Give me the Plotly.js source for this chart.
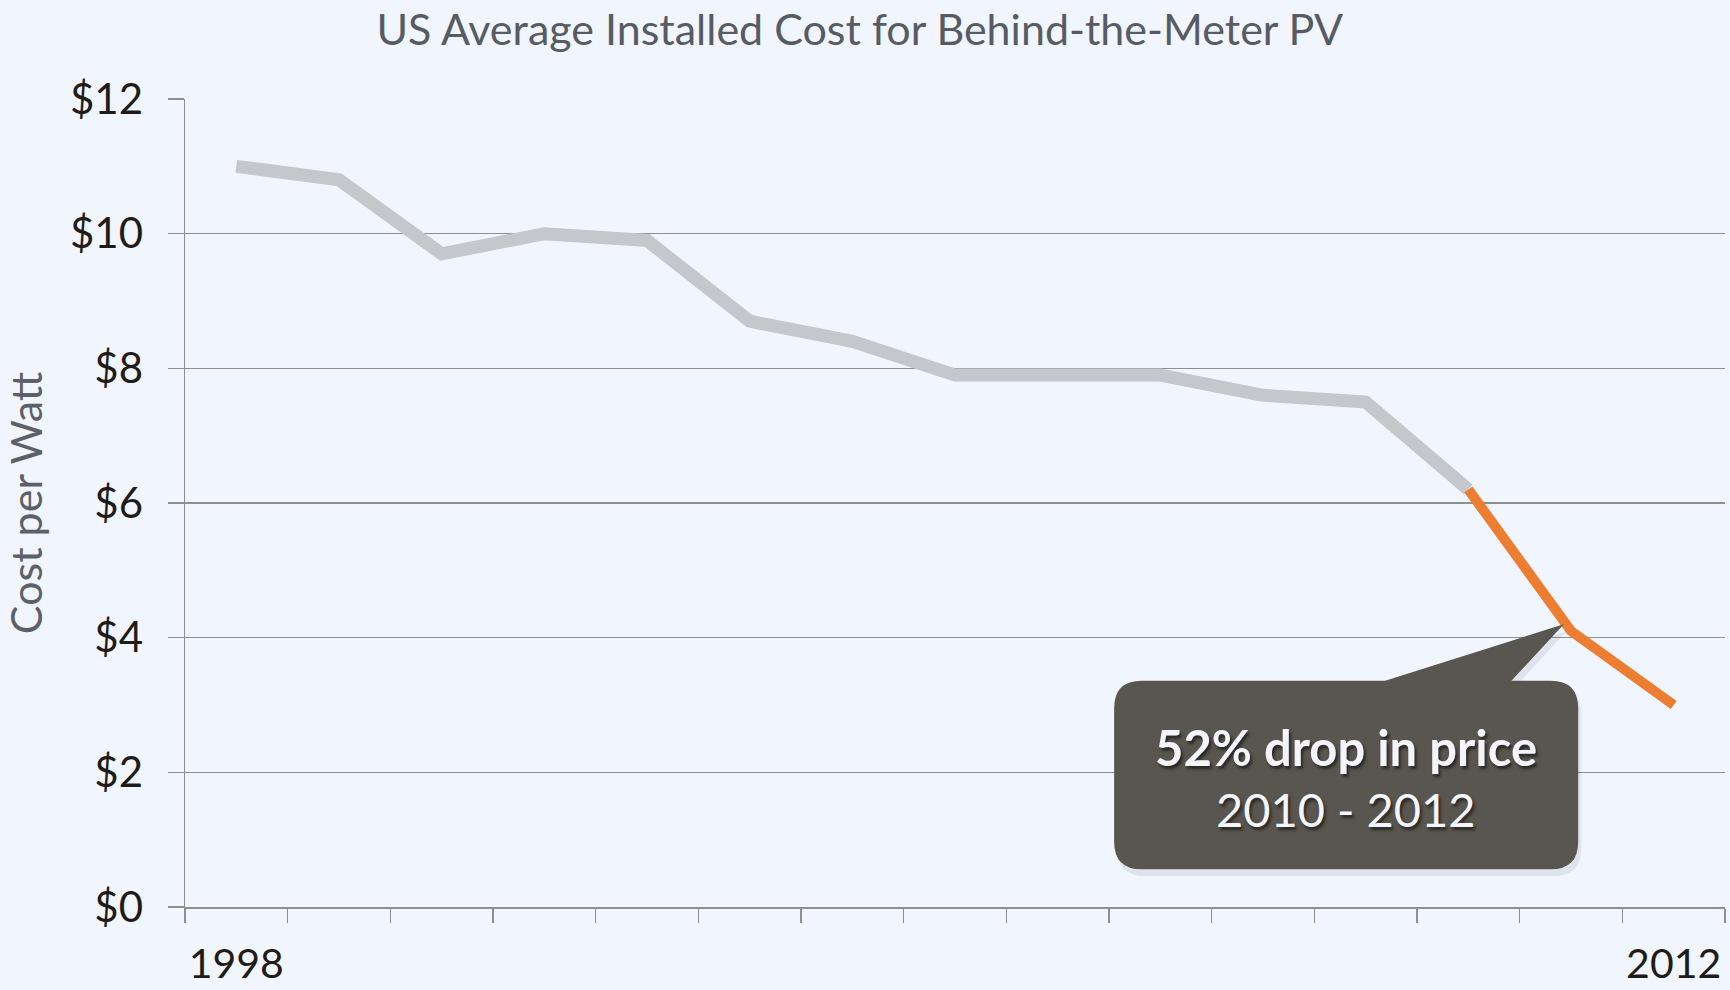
<!DOCTYPE html>
<html>
<head>
<meta charset="utf-8">
<script src="https://cdn.plot.ly/plotly-3.0.1.min.js"></script>
<style>
  html, body { margin: 0; padding: 0; background: #f1f5fd; }
  #chart { width: 1730px; height: 990px; }
</style>
</head>
<body>
<div id="chart"></div>
<script>
// --- DATA ---
const years = [1998, 1999, 2000, 2001, 2002, 2003, 2004, 2005, 2006, 2007, 2008, 2009, 2010, 2011, 2012];
const costPerWatt = [11.0, 10.8, 9.7, 10.0, 9.9, 8.7, 8.4, 7.9, 7.9, 7.9, 7.6, 7.5, 6.2, 4.1, 3.0];
const highlightFrom = 2010;
const labelYears = [1998, 2012];
const yTickVals = [0, 2, 4, 6, 8, 10, 12];
const yTickText = ['$0', '$2', '$4', '$6', '$8', '$10', '$12'];

// --- STYLE ---
const BG = '#f1f5fd';
const GRID = '#8f8f8f';
const FONT = 'Lato, "Open Sans", sans-serif';

// split the series where the orange highlight starts (shared point at 2010)
const cut = years.indexOf(highlightFrom);
const grayTrace = {
    x: years.slice(0, cut + 1),
    y: costPerWatt.slice(0, cut + 1),
    mode: 'lines', type: 'scatter',
    line: { color: '#c4c7cb', width: 13 },
    hoverinfo: 'skip'
};
const orangeTrace = {
    x: years.slice(cut),
    y: costPerWatt.slice(cut),
    mode: 'lines', type: 'scatter',
    line: { color: '#ed7d31', width: 10 },
    hoverinfo: 'skip'
};

// callout box (rounded rect with pointer), in data units
function calloutPath(x0, x1, y0, y1, rx, ry, xa, xb, tx, ty) {
    return `M ${x0 + rx},${y1} L ${xa},${y1} L ${tx},${ty} L ${xb},${y1} L ${x1 - rx},${y1} ` +
        `Q ${x1},${y1} ${x1},${y1 - ry} L ${x1},${y0 + ry} Q ${x1},${y0} ${x1 - rx},${y0} ` +
        `L ${x0 + rx},${y0} Q ${x0},${y0} ${x0},${y0 + ry} L ${x0},${y1 - ry} Q ${x0},${y1} ${x0 + rx},${y1} Z`;
}

const box = { x0: 2006.55, x1: 2011.07, y0: 0.56, y1: 3.36, rx: 0.27, ry: 0.41 };
const ptr = { xa: 2009.19, xb: 2010.42, tx: 2010.93, ty: 4.2 };

const layout = {
    width: 1730, height: 990,
    paper_bgcolor: BG, plot_bgcolor: BG,
    margin: { l: 185, r: 5, t: 99, b: 83 },
    showlegend: false,
    font: { family: FONT, color: '#1f1c17' },
    title: {
        text: 'US Average Installed Cost for Behind-the-Meter PV',
        font: { family: FONT, size: 43, color: '#575c64' },
        x: 0.497, xref: 'container', xanchor: 'center',
        y: 0.97, yref: 'container', yanchor: 'middle'
    },
    xaxis: {
        range: [1997.5, 2012.5],
        tickvals: labelYears,
        ticktext: labelYears.map(String),
        ticks: '',
        ticklabelstandoff: 20,
        tickfont: { family: FONT, size: 41, color: '#1f1c17' },
        showgrid: false, zeroline: false,
        showline: true, linecolor: GRID, linewidth: 1.5,
        minor: { tick0: 1997.5, dtick: 1, ticks: 'outside', ticklen: 14, tickcolor: GRID, tickwidth: 1.5, showgrid: false }
    },
    yaxis: {
        range: [0, 12],
        tickvals: yTickVals,
        ticktext: yTickText,
        ticks: 'outside', ticklen: 16, tickcolor: GRID, tickwidth: 1.5,
        ticklabelstandoff: 16,
        tickfont: { family: FONT, size: 42, color: '#1f1c17' },
        showgrid: true, gridcolor: GRID, gridwidth: 1.5,
        zeroline: false,
        showline: true, linecolor: GRID, linewidth: 1.5,
        title: {
            text: 'Cost per Watt',
            font: { family: FONT, size: 43, color: '#5c6169' },
            standoff: 20
        }
    },
    shapes: [
        {
            type: 'path', xref: 'x', yref: 'y', layer: 'above',
            path: calloutPath(box.x0 + 0.03, box.x1 + 0.03, box.y0 - 0.1, box.y1 - 0.1, box.rx, box.ry,
                ptr.xa + 0.03, ptr.xb + 0.03, ptr.tx + 0.03, ptr.ty - 0.1),
            fillcolor: 'rgba(60,70,110,0.10)', line: { width: 0 }
        },
        {
            type: 'path', xref: 'x', yref: 'y', layer: 'above',
            path: calloutPath(box.x0, box.x1, box.y0, box.y1, box.rx, box.ry, ptr.xa, ptr.xb, ptr.tx, ptr.ty),
            fillcolor: '#59564f', line: { width: 0 }
        }
    ],
    annotations: [
        {
            xref: 'x', yref: 'y', x: 2008.81, y: 2.38,
            text: '<b>52% drop in price</b>', showarrow: false,
            font: { family: FONT, size: 49, color: '#f4f5fb', shadow: '2px 3px 3px rgba(0,0,0,0.55)' }
        },
        {
            xref: 'x', yref: 'y', x: 2008.81, y: 1.45,
            text: '2010 - 2012', showarrow: false,
            font: { family: FONT, size: 47, color: '#f4f5fb', shadow: '2px 3px 3px rgba(0,0,0,0.55)' }
        }
    ]
};

Plotly.newPlot('chart', [grayTrace, orangeTrace], layout, { staticPlot: true, displayModeBar: false });
</script>
</body>
</html>
